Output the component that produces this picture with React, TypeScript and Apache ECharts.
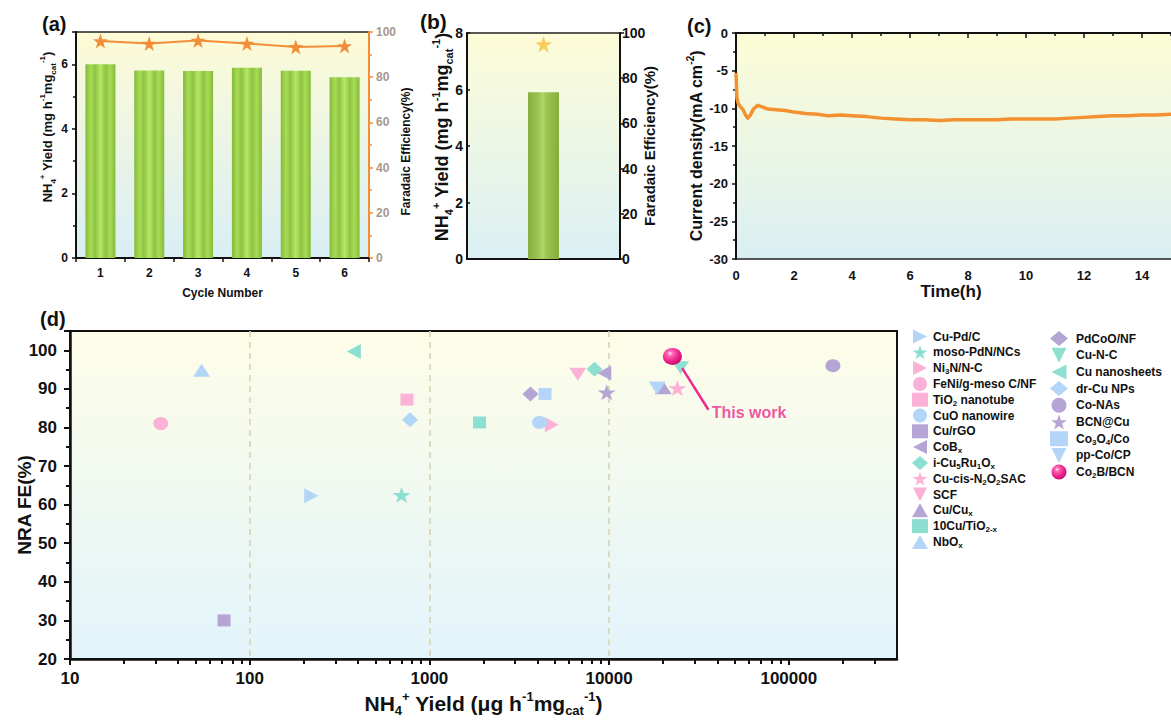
import React, { useEffect, useRef } from 'react';
import * as echarts from 'echarts';

const FONT = '"Liberation Sans", Arial, Helvetica, sans-serif';

// ---------- (a) cycling stability ----------
const cycleLabels = ['1', '2', '3', '4', '5', '6'];
const cycleYield = [6.0, 5.81, 5.79, 5.89, 5.8, 5.6];
const cycleFE = [96.0, 94.9, 96.2, 94.9, 93.4, 93.8];

// ---------- (b) single electrolysis ----------
const runLabels = ['Co2B/BCN'];
const runYield = [5.9];
const runFE = [95.0];

// ---------- (c) long-term chronoamperometry ----------
const timeH = [
  0, 0.03, 0.08, 0.15, 0.25, 0.33, 0.4, 0.48, 0.6, 0.75, 0.9, 1.1, 1.4, 1.7, 2.0, 2.4, 2.8, 3.2, 3.6,
  4.0, 4.5, 5.0, 5.5, 6.0, 6.5, 7.0, 7.5, 8.0, 8.5, 9.0, 9.5, 10.0, 10.5, 11.0, 11.5, 12.0, 12.5,
  13.0, 13.5, 14.0, 14.5, 15.0, 15.5, 16.0,
];
const currentDensity = [
  -5.3, -8.6, -9.4, -9.8, -10.2, -10.9, -11.3, -11.0, -10.1, -9.6, -9.8, -10.1, -10.2, -10.3, -10.5,
  -10.7, -10.8, -11.0, -10.9, -11.0, -11.1, -11.3, -11.4, -11.5, -11.5, -11.6, -11.5, -11.5, -11.5,
  -11.5, -11.4, -11.4, -11.4, -11.4, -11.3, -11.2, -11.1, -11.0, -11.0, -10.9, -10.9, -10.8, -10.7,
  -10.7,
];

// ---------- (d) comparison with reported catalysts ----------
const catalystNames = [
  'Cu-Pd/C', 'moso-PdN/NCs', 'Ni3N/N-C', 'FeNi/g-meso C/NF', 'TiO2 nanotube', 'CuO nanowire',
  'Cu/rGO', 'CoBx', 'i-Cu5Ru1Ox', 'Cu-cis-N2O2SAC', 'SCF', 'Cu/Cux', '10Cu/TiO2-x', 'NbOx',
  'PdCoO/NF', 'Cu-N-C', 'Cu nanosheets', 'dr-Cu NPs', 'Co-NAs', 'BCN@Cu', 'Co3O4/Co', 'pp-Co/CP',
  'Co2B/BCN',
];
const catalystYield = [
  220, 700, 4800, 32, 750, 4100, 72, 9400, 8300, 24000, 6700, 20000, 1900, 54, 3650, 25000, 380,
  780, 176000, 9700, 4400, 18500, 22500,
];
const catalystFE = [
  62.3, 62.5, 80.7, 81.0, 87.2, 81.3, 30.0, 94.1, 95.1, 90.2, 93.8, 90.3, 81.3, 94.8, 88.7, 95.5,
  99.7, 82.0, 96.0, 89.1, 88.7, 90.2, 98.4,
];
const yieldMajorTicks = [10, 100, 1000, 10000, 100000];
const thisWorkLabelAt = [37000, 83.8];
const arrowFrom = [35700, 84.6];
const arrowTo = [25500, 95.4];

// rich-text versions of the legend names
const legendRich: Record<string, string> = {
  'Ni3N/N-C': 'Ni{s|3}N/N-C',
  'TiO2 nanotube': 'TiO{s|2} nanotube',
  CoBx: 'CoB{s|x}',
  'i-Cu5Ru1Ox': 'i-Cu{s|5}Ru{s|1}O{s|x}',
  'Cu-cis-N2O2SAC': 'Cu-cis-N{s|2}O{s|2}SAC',
  'Cu/Cux': 'Cu/Cu{s|x}',
  '10Cu/TiO2-x': '10Cu/TiO{s|2-x}',
  NbOx: 'NbO{s|x}',
  'Co3O4/Co': 'Co{s|3}O{s|4}/Co',
  'Co2B/BCN': 'Co{s|2}B/BCN',
};

// ---------- styling ----------
const STAR =
  'path://M50,2 L61.8,36.2 L97.6,36.2 L68.6,57.6 L79.4,92 L50,71 L20.6,92 L31.4,57.6 L2.4,36.2 L38.2,36.2 Z';
const TRI_UP = 'triangle';
const TRI_DOWN = 'path://M0,0 L100,0 L50,100 Z';
const TRI_LEFT = 'path://M0,50 L100,0 L100,100 Z';
const TRI_RIGHT = 'path://M0,0 L100,50 L0,100 Z';
const BLUE = '#b3d5f8';
const TEAL = '#8ddfd2';
const PINK = '#fbb2d6';
const PURPLE = '#b4a5d5';
const MAGENTA = '#ee2a8f';
const ORANGE = '#f28e38';

const SPHERE = {
  type: 'radial', x: 0.38, y: 0.32, r: 0.7,
  colorStops: [
    { offset: 0, color: '#ffe6f3' },
    { offset: 0.22, color: '#ff62b4' },
    { offset: 0.7, color: '#e81d87' },
    { offset: 1, color: '#c3106a' },
  ],
};

const markerShape = [
  TRI_RIGHT, STAR, TRI_RIGHT, 'circle', 'rect', 'circle', 'rect', TRI_LEFT, 'diamond', STAR,
  TRI_DOWN, TRI_UP, 'rect', TRI_UP, 'diamond', TRI_DOWN, TRI_LEFT, 'diamond', 'circle',
  STAR, 'rect', TRI_DOWN, 'circle',
];
const markerColor: any[] = [
  BLUE, TEAL, PINK, PINK, PINK, BLUE, PURPLE, PURPLE, TEAL, PINK, PINK, PURPLE, TEAL, BLUE, PURPLE,
  TEAL, TEAL, BLUE, PURPLE, PURPLE, BLUE, BLUE, SPHERE,
];

function sizeFor(shape: string, last: boolean): number[] {
  if (last) return [19, 17];
  if (shape === STAR) return [18, 16];
  if (shape === 'circle') return [15, 13];
  if (shape === 'rect') return [13, 12];
  if (shape === 'diamond') return [16, 15];
  if (shape === TRI_LEFT || shape === TRI_RIGHT) return [14, 15];
  return [17, 13];
}

const vGrad = (top: string, bottom: string) => ({
  type: 'linear', x: 0, y: 0, x2: 0, y2: 1,
  colorStops: [{ offset: 0, color: top }, { offset: 1, color: bottom }],
});

const barFillA = {
  type: 'linear', x: 0, y: 0, x2: 1, y2: 0,
  colorStops: [
    { offset: 0, color: '#84ba3b' },
    { offset: 0.18, color: '#a9dc55' },
    { offset: 0.32, color: '#8dc444' },
    { offset: 0.5, color: '#b6e862' },
    { offset: 0.68, color: '#8dc444' },
    { offset: 0.82, color: '#a9dc55' },
    { offset: 1, color: '#84ba3b' },
  ],
};
const barFillB = {
  type: 'linear', x: 0, y: 0, x2: 1, y2: 0,
  colorStops: [
    { offset: 0, color: '#86b03e' },
    { offset: 0.35, color: '#9cc554' },
    { offset: 0.47, color: '#b2d56c' },
    { offset: 0.6, color: '#9cc554' },
    { offset: 1, color: '#84ad3c' },
  ],
};

const line2 = (color = '#111', width = 2) => ({ show: true, lineStyle: { color, width } });
const txt = (size: number, color = '#111') => ({ fontFamily: FONT, fontWeight: 'bold' as const, fontSize: size, color });
const supSub = (base: number, small: number) => ({
  b: { fontFamily: FONT, fontWeight: 'bold', fontSize: base, lineHeight: base + 6, color: '#111' },
  p: { fontFamily: FONT, fontWeight: 'bold', fontSize: small, verticalAlign: 'top', color: '#111' },
  s: { fontFamily: FONT, fontWeight: 'bold', fontSize: small, verticalAlign: 'bottom', color: '#111' },
});
const yieldMgName = '{b|NH}{s|4}{p|+}{b| Yield (mg h}{p|-1}{b|mg}{s|cat}{p|-1}{b|)}';

export default function App() {
  const ref = useRef<HTMLDivElement>(null);

  useEffect(() => {
    if (!ref.current) return;
    document.body.style.margin = '0';
    const chart = echarts.init(ref.current, undefined, { renderer: 'svg' });

    const minorYieldTicks: number[] = [];
    for (let d = 10; d <= 100000; d *= 10) {
      for (let k = 2; k <= 9; k++) if (d * k < 400000) minorYieldTicks.push(d * k);
    }

    const catalystSeries = catalystNames.map((name, i) => {
      const last = i === catalystNames.length - 1;
      const s: any = {
        type: 'scatter',
        name,
        xAxisIndex: 3,
        yAxisIndex: 5,
        symbol: markerShape[i],
        symbolSize: sizeFor(markerShape[i], last),
        itemStyle: { color: markerColor[i], opacity: 1 },
        data: [[catalystYield[i], catalystFE[i]]],
        z: last ? 5 : 3,
      };
      if (last) {
        s.markLine = {
          silent: true,
          symbol: ['none', 'arrow'],
          symbolSize: [0, 13],
          lineStyle: { color: MAGENTA, width: 2.5, type: 'solid' },
          label: { show: false },
          data: [[{ coord: arrowFrom }, { coord: arrowTo }]],
        };
      }
      return s;
    });

    const legendText = {
      fontFamily: FONT,
      fontWeight: 'bold',
      fontSize: 12,
      color: '#111',
      lineHeight: 15,
      rich: { s: { fontFamily: FONT, fontWeight: 'bold', fontSize: 8, verticalAlign: 'bottom', color: '#111' } },
    };
    const legendFmt = (n: string) => legendRich[n] || n;

    const option: any = {
      animation: false,
      textStyle: { fontFamily: FONT, fontWeight: 'bold', color: '#111' },
      grid: [
        { left: 76, top: 32, width: 293, height: 226, show: true, borderWidth: 1.5, borderColor: '#222',
          backgroundColor: vGrad('#fdfbd6', '#d9eef5'), outerBoundsMode: 'none' },
        { left: 467, top: 33, width: 153, height: 226, show: true, borderWidth: 1.5, borderColor: '#222',
          backgroundColor: vGrad('#fdfcd8', '#dbf0f4'), outerBoundsMode: 'none' },
        { left: 736, top: 33, right: -29, height: 226, show: true, borderWidth: 1.5, borderColor: '#222',
          backgroundColor: vGrad('#fdfdd6', '#daeff3'), outerBoundsMode: 'none' },
        { left: 70, top: 331, width: 827, height: 328, show: true, borderWidth: 2, borderColor: '#111',
          backgroundColor: vGrad('#fefde8', '#e2f4fb'), outerBoundsMode: 'none' },
      ],
      legend: [
        {
          data: catalystNames.slice(0, 14), orient: 'vertical', left: 907, top: 324,
          itemWidth: 16, itemHeight: 14, itemGap: 0.8, selectedMode: false,
          textStyle: { ...legendText, padding: [0, 0, 0, 0] }, formatter: legendFmt,
        },
        {
          data: catalystNames.slice(14), orient: 'vertical', left: 1045, top: 326,
          itemWidth: 18, itemHeight: 15, itemGap: 1.7, selectedMode: false,
          textStyle: { ...legendText, padding: [0, 0, 0, 3] }, formatter: legendFmt,
        },
      ],
      xAxis: [
        {
          type: 'category', gridIndex: 0, data: cycleLabels,
          name: 'Cycle Number', nameLocation: 'middle', nameGap: 29, nameTextStyle: txt(12), nameMoveOverlap: false,
          axisLine: line2(), axisTick: { show: true, length: 4, lineStyle: { width: 1.5, color: '#111' } },
          axisLabel: { ...txt(12), margin: 9 },
        },
        {
          type: 'category', gridIndex: 1, data: runLabels,
          axisLine: line2(), axisTick: { show: false }, axisLabel: { show: false },
        },
        {
          type: 'value', gridIndex: 2, min: 0, max: 16, interval: 2,
          name: 'Time(h)', nameLocation: 'middle', nameGap: 24, nameMoveOverlap: false,
          nameTextStyle: { ...txt(17), padding: [0, 34, 0, 0] },
          axisLine: line2(), splitLine: { show: false },
          axisTick: { show: true, length: 5, lineStyle: { width: 1.5, color: '#111' } },
          minorTick: { show: true, splitNumber: 2, length: 3, lineStyle: { width: 1.5, color: '#111' } },
          axisLabel: { ...txt(13), margin: 10, showMaxLabel: false },
        },
        {
          type: 'log', logBase: 10, gridIndex: 3, min: 10, max: 400000,
          name: '{b|NH}{s|4}{p|+}{b| Yield (μg h}{p|-1}{b|mg}{s|cat}{p|-1}{b|)}',
          nameLocation: 'middle', nameGap: 31, nameMoveOverlap: false,
          nameTextStyle: { rich: supSub(21, 13) },
          axisLine: line2('#111', 2.5),
          axisTick: { show: true, length: 6, lineStyle: { width: 2, color: '#111' }, customValues: yieldMajorTicks },
          axisLabel: { ...txt(17), margin: 11, customValues: yieldMajorTicks, formatter: (v: number) => String(Math.round(v)) },
          splitLine: { show: true, showMinLine: false, showMaxLine: false, lineStyle: { color: '#d8cfae', width: 1.5, type: [6, 5] } },
        },
        {
          type: 'log', logBase: 10, gridIndex: 3, min: 10, max: 400000, position: 'bottom',
          axisLine: { show: false }, axisLabel: { show: false }, splitLine: { show: false },
          axisTick: { show: true, length: 5, lineStyle: { width: 2, color: '#111' }, customValues: minorYieldTicks },
        },
      ],
      yAxis: [
        {
          type: 'value', gridIndex: 0, min: 0, max: 7, interval: 2,
          name: yieldMgName, nameLocation: 'middle', nameGap: 19, nameMoveOverlap: false,
          nameTextStyle: { rich: supSub(13, 8), padding: [0, 0, 0, 36] },
          axisLine: line2(), splitLine: { show: false },
          axisTick: { show: true, length: 4, lineStyle: { width: 1.5, color: '#111' } },
          minorTick: { show: true, splitNumber: 2, length: 3, lineStyle: { width: 1.5, color: '#111' } },
          axisLabel: { ...txt(12), margin: 8, showMaxLabel: false },
        },
        {
          type: 'value', gridIndex: 0, min: 0, max: 100, interval: 20, position: 'right',
          name: 'Faradaic Efficiency(%)', nameLocation: 'middle', nameGap: 31, nameMoveOverlap: false,
          nameTextStyle: { ...txt(12), padding: [0, 13, 0, 0] },
          axisLine: line2(ORANGE, 2), splitLine: { show: false },
          axisTick: { show: true, length: 4, lineStyle: { width: 1.5, color: ORANGE } },
          minorTick: { show: true, splitNumber: 2, length: 3, lineStyle: { width: 1.5, color: ORANGE } },
          axisLabel: { ...txt(12, '#a8978b'), margin: 7 },
        },
        {
          type: 'value', gridIndex: 1, min: 0, max: 8, interval: 2,
          name: yieldMgName, nameLocation: 'middle', nameGap: 13, nameMoveOverlap: false,
          nameTextStyle: { rich: supSub(18, 11), padding: [0, 0, 0, 18] },
          axisLine: line2(), splitLine: { show: false },
          axisTick: { show: true, inside: true, length: 3, lineStyle: { width: 1.5, color: '#111' } },
          axisLabel: { ...txt(14), margin: 4 },
        },
        {
          type: 'value', gridIndex: 1, min: 0, max: 100, interval: 20, position: 'right',
          name: 'Faradaic Efficiency(%)', nameLocation: 'middle', nameGap: 22, nameMoveOverlap: false,
          nameTextStyle: txt(15),
          axisLine: line2(), splitLine: { show: false },
          axisTick: { show: true, length: 4, lineStyle: { width: 1.5, color: '#111' } },
          axisLabel: { ...txt(14), margin: 2 },
        },
        {
          type: 'value', gridIndex: 2, min: -30, max: 0, interval: 5,
          name: '{b|Current density(mA cm}{p|-2}{b|)}', nameLocation: 'middle', nameGap: 29, nameMoveOverlap: false,
          nameTextStyle: { rich: supSub(16, 10) },
          axisLine: line2(), splitLine: { show: false },
          axisTick: { show: true, length: 4, lineStyle: { width: 1.5, color: '#111' } },
          minorTick: { show: true, splitNumber: 2, length: 3, lineStyle: { width: 1.5, color: '#111' } },
          axisLabel: { ...txt(13), margin: 8 },
        },
        {
          type: 'value', gridIndex: 3, min: 20, max: 105, interval: 10,
          name: 'NRA FE(%)', nameLocation: 'middle', nameGap: 36, nameMoveOverlap: false,
          nameTextStyle: { ...txt(19), padding: [0, 20, 0, 0] },
          axisLine: line2('#111', 2.5), splitLine: { show: false },
          axisTick: { show: true, length: 6, lineStyle: { width: 2, color: '#111' } },
          minorTick: { show: true, splitNumber: 2, length: 4, lineStyle: { width: 2, color: '#111' } },
          axisLabel: { ...txt(17), margin: 13, showMaxLabel: false },
        },
      ],
      series: [
        {
          type: 'bar', name: 'yield-a', xAxisIndex: 0, yAxisIndex: 0, barWidth: 30,
          itemStyle: { color: barFillA }, data: cycleYield,
        },
        {
          type: 'line', name: 'fe-a', xAxisIndex: 0, yAxisIndex: 1, symbol: STAR, symbolSize: 15,
          itemStyle: { color: ORANGE }, lineStyle: { color: ORANGE, width: 2 }, data: cycleFE,
        },
        {
          type: 'bar', name: 'yield-b', xAxisIndex: 1, yAxisIndex: 2, barWidth: 31,
          itemStyle: { color: barFillB }, data: runYield,
        },
        {
          type: 'scatter', name: 'fe-b', xAxisIndex: 1, yAxisIndex: 3, symbol: STAR, symbolSize: 17,
          itemStyle: { color: '#f8c13e' }, data: runFE,
        },
        {
          type: 'line', name: 'j-t', xAxisIndex: 2, yAxisIndex: 4, showSymbol: false,
          lineStyle: { color: '#f39130', width: 3.5, join: 'round' },
          data: timeH.map((t, i) => [t, currentDensity[i]]),
        },
        ...catalystSeries,
        {
          type: 'scatter', name: 'this-work', xAxisIndex: 3, yAxisIndex: 5, symbolSize: 1,
          itemStyle: { color: 'rgba(0,0,0,0)' }, silent: true,
          label: { show: true, position: 'right', distance: 0, formatter: 'This work', ...txt(16, MAGENTA) },
          data: [thisWorkLabelAt],
        },
      ],
      graphic: [
        { type: 'text', left: 42, top: 14, style: { text: '(a)', ...txt(20), fill: '#111' } },
        { type: 'text', left: 420, top: 11, style: { text: '(b)', ...txt(21), fill: '#111' } },
        { type: 'text', left: 687, top: 16, style: { text: '(c)', ...txt(20), fill: '#111' } },
        { type: 'text', left: 40, top: 309, style: { text: '(d)', ...txt(20), fill: '#111' } },
      ],
    };

    chart.setOption(option);
    return () => chart.dispose();
  }, []);

  return <div ref={ref} style={{ position: 'absolute', left: 0, top: 0, width: 1171, height: 720 }} />;
}
